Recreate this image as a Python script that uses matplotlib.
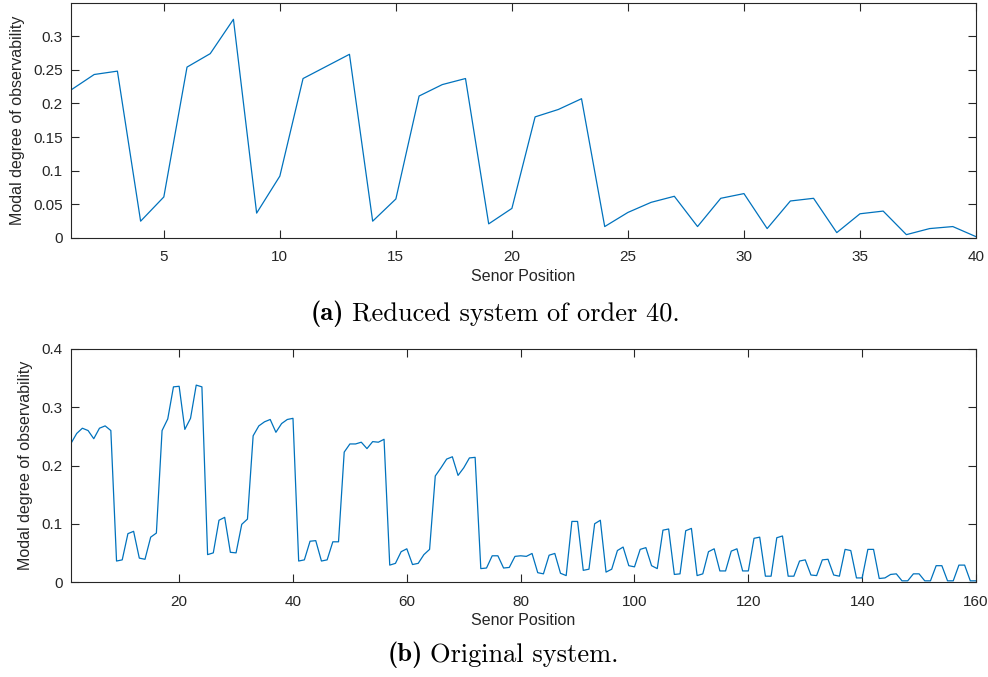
import numpy as np
import matplotlib
matplotlib.use("Agg")
import matplotlib.pyplot as plt

plt.rcParams.update({
    "font.family": ["Liberation Sans", "DejaVu Sans"],
})

AXIS_COLOR = "#262626"
LINE_COLOR = "#0072BD"

# Reduced model: modal degree of observability per sensor position
reduced_mdo = [
    0.220, 0.243, 0.248, 0.025, 0.061, 0.254, 0.274, 0.325, 0.037, 0.092,
    0.237, 0.255, 0.273, 0.025, 0.058, 0.211, 0.228, 0.237, 0.021, 0.044,
    0.180, 0.191, 0.207, 0.017, 0.038, 0.053, 0.062, 0.017, 0.059, 0.066,
    0.014, 0.055, 0.059, 0.008, 0.036, 0.040, 0.005, 0.014, 0.017, 0.002,
]

# Full model: modal degree of observability per sensor position
original_mdo = [
    0.238, 0.255, 0.264, 0.260, 0.246, 0.264, 0.268, 0.260, 0.036, 0.038,
    0.083, 0.087, 0.041, 0.039, 0.077, 0.084, 0.260, 0.280, 0.335, 0.336,
    0.262, 0.281, 0.338, 0.335, 0.047, 0.050, 0.106, 0.111, 0.051, 0.050,
    0.099, 0.108, 0.251, 0.268, 0.275, 0.279, 0.257, 0.272, 0.279, 0.281,
    0.036, 0.038, 0.070, 0.071, 0.036, 0.038, 0.069, 0.069, 0.223, 0.237,
    0.237, 0.240, 0.229, 0.241, 0.240, 0.245, 0.029, 0.032, 0.052, 0.057,
    0.030, 0.032, 0.047, 0.056, 0.182, 0.196, 0.211, 0.215, 0.183, 0.196,
    0.213, 0.214, 0.023, 0.024, 0.045, 0.045, 0.024, 0.025, 0.044, 0.045,
    0.044, 0.049, 0.016, 0.014, 0.046, 0.049, 0.015, 0.011, 0.104, 0.104,
    0.020, 0.022, 0.100, 0.106, 0.017, 0.022, 0.054, 0.060, 0.028, 0.026,
    0.056, 0.059, 0.028, 0.023, 0.089, 0.091, 0.013, 0.014, 0.088, 0.092,
    0.011, 0.014, 0.052, 0.057, 0.019, 0.019, 0.053, 0.057, 0.019, 0.019,
    0.075, 0.077, 0.010, 0.010, 0.076, 0.079, 0.010, 0.010, 0.036, 0.038,
    0.012, 0.011, 0.038, 0.039, 0.012, 0.010, 0.056, 0.054, 0.007, 0.007,
    0.056, 0.056, 0.006, 0.007, 0.013, 0.014, 0.002, 0.002, 0.014, 0.014,
    0.002, 0.002, 0.028, 0.028, 0.002, 0.002, 0.029, 0.029, 0.002, 0.002,
]

reduced_xticks = [5, 10, 15, 20, 25, 30, 35, 40]
reduced_yticks = [0, 0.05, 0.1, 0.15, 0.2, 0.25, 0.3]
reduced_yticklabels = ["0", "0.05", "0.1", "0.15", "0.2", "0.25", "0.3"]
original_xticks = [20, 40, 60, 80, 100, 120, 140, 160]
original_yticks = [0, 0.1, 0.2, 0.3, 0.4]
original_yticklabels = ["0", "0.1", "0.2", "0.3", "0.4"]

captions = [("(a)", "Reduced system of order 40."), ("(b)", "Original system.")]

W, H = 988, 677
fig = plt.figure(figsize=(W / 100, H / 100), dpi=100)
ax_a = fig.add_axes([71 / W, 1 - 238 / H, 905 / W, 235.5 / H])
ax_b = fig.add_axes([71 / W, 1 - 582 / H, 905 / W, 233 / H])


def style_axes(ax, xticks, yticks, yticklabels):
    ax.set_xticks(xticks)
    ax.set_yticks(yticks)
    ax.set_yticklabels(yticklabels)
    ax.tick_params(direction="in", length=6, width=0.8, colors=AXIS_COLOR,
                   labelsize=11, top=True, right=True, pad=6)
    ax.tick_params(axis="x", pad=9)
    for spine in ax.spines.values():
        spine.set_color(AXIS_COLOR)
        spine.set_linewidth(0.8)
    ax.set_xlabel("Senor Position", fontsize=11.5, color=AXIS_COLOR, labelpad=3)
    ax.set_ylabel("Modal degree of observability", fontsize=11.5,
                  color=AXIS_COLOR, labelpad=6)


pos_a = np.arange(1, len(reduced_mdo) + 1)
ax_a.plot(pos_a, reduced_mdo, color=LINE_COLOR, linewidth=0.9)
ax_a.set_xlim(1, 40)
ax_a.set_ylim(0, 0.35)
style_axes(ax_a, reduced_xticks, reduced_yticks, reduced_yticklabels)

pos_b = np.arange(1, len(original_mdo) + 1)
ax_b.plot(pos_b, original_mdo, color=LINE_COLOR, linewidth=0.9)
ax_b.set_xlim(1, 160)
ax_b.set_ylim(0, 0.4)
style_axes(ax_b, original_xticks, original_yticks, original_yticklabels)


# Subfigure captions: bold tag + roman text, centred as one line
def add_caption(tag, text, cx, cy, size=19, gap=8):
    renderer = fig.canvas.get_renderer()
    t_tag = fig.text(0, cy / H, tag, family="cmb10", fontsize=size,
                     ha="left", va="center")
    t_txt = fig.text(0, cy / H, text, family="cmr10", fontsize=size,
                     ha="left", va="center")
    w_tag = t_tag.get_window_extent(renderer).width
    w_txt = t_txt.get_window_extent(renderer).width
    left = cx - (w_tag + gap + w_txt) / 2
    t_tag.set_x(left / W)
    t_txt.set_x((left + w_tag + gap) / W)


add_caption(*captions[0], cx=495, cy=H - 314)
add_caption(*captions[1], cx=503, cy=H - 655)

fig.savefig("out.png", dpi=100)
